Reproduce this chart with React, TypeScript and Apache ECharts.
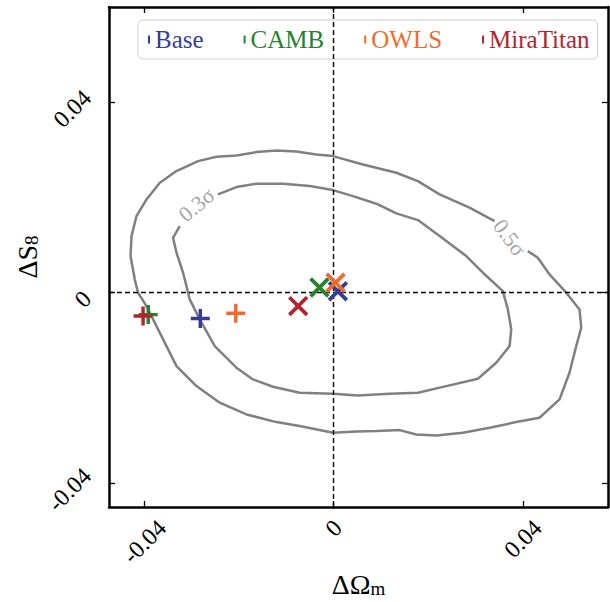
import React, { useEffect, useRef } from "react";
import * as echarts from "echarts";

const FONT = "'Liberation Serif', 'Times New Roman', serif";

const SERIES_NAMES = ["Base", "CAMB", "OWLS", "MiraTitan"];
const SERIES_COLORS = ["#343c98", "#26832a", "#f26a2b", "#b3232f"];

// "+" markers
const PLUS_X = [-0.0282, -0.0392, -0.0207, -0.0403];
const PLUS_Y = [-0.0054, -0.0046, -0.0043, -0.0049];
// "x" markers
const CROSS_X = [0.0009, -0.003, 0.0004, -0.0075];
const CROSS_Y = [0.0003, 0.0011, 0.0021, -0.0028];

const X_TICKS = [-0.04, 0, 0.04];
const Y_TICKS = [-0.04, 0, 0.04];
const TICK_LABELS = ["-0.04", "0", "0.04"];

const X_MIN = -0.0475;
const X_MAX = 0.058;
const Y_MIN = -0.045;
const Y_MAX = 0.06;

// 0.5 sigma contour
const CONTOUR_05: [number, number][] = [
  [0.04105, 0.00874], [0.04317, 0.00735], [0.04564, 0.00384], [0.04917, 0.0],
  [0.05198, -0.00351], [0.05234, -0.00735], [0.05128, -0.01121], [0.04986, -0.0168],
  [0.04775, -0.02241], [0.04352, -0.02625], [0.0386, -0.02717], [0.03296, -0.02835],
  [0.02732, -0.0294], [0.0217, -0.02997], [0.01747, -0.02976], [0.01394, -0.02885],
  [0.00902, -0.02906], [0.0048, -0.02913], [-0.00015, -0.0294], [-0.00718, -0.02801],
  [-0.01211, -0.02717], [-0.01845, -0.02556], [-0.02409, -0.0231], [-0.02901, -0.01961],
  [-0.03323, -0.01541], [-0.0364, -0.00911], [-0.03957, -0.00281], [-0.04135, 0.0],
  [-0.04205, 0.00279], [-0.04295, 0.00769], [-0.04274, 0.01189], [-0.04169, 0.01609],
  [-0.03957, 0.01959], [-0.03676, 0.0231], [-0.03324, 0.02554], [-0.02867, 0.02764],
  [-0.02478, 0.02856], [-0.02056, 0.02883], [-0.01633, 0.02953], [-0.01211, 0.02988],
  [-0.00788, 0.02967], [-0.00366, 0.02904], [-0.00015, 0.02869], [0.00619, 0.02694],
  [0.01325, 0.0252], [0.01781, 0.02344], [0.0224, 0.02064], [0.02873, 0.01785],
  [0.03402, 0.01504],
];

// 0.3 sigma contour
const CONTOUR_03: [number, number][] = [
  [-0.02445, 0.02064], [-0.02056, 0.02218], [-0.01633, 0.02289], [-0.01071, 0.02289],
  [-0.00507, 0.02239], [-0.00015, 0.02155], [0.00408, 0.02029], [0.00902, 0.01869],
  [0.01325, 0.01665], [0.01781, 0.01525], [0.0224, 0.01189], [0.02804, 0.00769],
  [0.03155, 0.0042], [0.03577, 0.00034], [0.03683, -0.00351], [0.03755, -0.00771],
  [0.03719, -0.01121], [0.03438, -0.0147], [0.03049, -0.01806], [0.02381, -0.01961],
  [0.01781, -0.021], [0.01183, -0.02121], [0.00513, -0.02157], [-0.00015, -0.02121],
  [-0.00718, -0.021], [-0.01282, -0.01974], [-0.01705, -0.01821], [-0.02056, -0.01575],
  [-0.02514, -0.01121], [-0.02831, -0.00561], [-0.03043, -0.00141], [-0.03112, 0.00139],
  [-0.03184, 0.0042], [-0.03323, 0.0084], [-0.03395, 0.01155], [-0.03254, 0.01399],
];

const CONTOUR_LABELS = ["0.3σ", "0.5σ"];
const CONTOUR_LABEL_POS: [number, number][] = [[-0.029, 0.0185], [0.0372, 0.0116]];
const CONTOUR_LABEL_ROT = [40, -54];

const PLUS_PATH =
  "path://M-0.18,-1L0.18,-1L0.18,-0.18L1,-0.18L1,0.18L0.18,0.18L0.18,1L-0.18,1L-0.18,0.18L-1,0.18L-1,-0.18L-0.18,-0.18Z";
const CROSS_PATH =
  "path://M-0.15,-1L0.15,-1L0.15,-0.15L1,-0.15L1,0.15L0.15,0.15L0.15,1L-0.15,1L-0.15,0.15L-1,0.15L-1,-0.15L-0.15,-0.15Z";

let measureCtx: CanvasRenderingContext2D | null = null;
function measure(s: string, size: number) {
  if (!measureCtx) measureCtx = document.createElement("canvas").getContext("2d");
  if (!measureCtx) return s.length * size * 0.5;
  measureCtx.font = `${size}px ${FONT}`;
  return measureCtx.measureText(s).width;
}

const TICK_FS = 24;

function tickIndex(v: number, ticks: number[]) {
  return ticks.findIndex((t) => Math.abs(t - v) < 1e-9);
}

export default function App() {
  const ref = useRef<HTMLDivElement>(null);
  useEffect(() => {
    if (!ref.current) return;
    const chart = echarts.init(ref.current, undefined, { renderer: "svg" });

    const xRich: any = {};
    const yRich: any = {};
    TICK_LABELS.forEach((s, i) => {
      const w = measure(s, TICK_FS);
      xRich["t" + i] = {
        fontFamily: FONT,
        fontSize: TICK_FS,
        color: "#000",
        padding: [0.25 * w, 0.5 * w + TICK_FS, 0, 0],
      };
      yRich["t" + i] = {
        fontFamily: FONT,
        fontSize: TICK_FS,
        color: "#000",
        padding: [12, 0.5 * w + 6, 0.5 * w, 0],
      };
    });

    const axisLineStyle = { color: "#000", width: 2.5 };
    const tickStyle = { show: true, inside: true, length: 6, lineStyle: { color: "#000", width: 1.3 } };

    const markerSeries = SERIES_NAMES.map((name, i) => ({
      name,
      type: "scatter",
      z: 5,
      itemStyle: { color: SERIES_COLORS[i], opacity: 1 },
      data: [
        { value: [PLUS_X[i], PLUS_Y[i]], symbol: PLUS_PATH, symbolSize: 19 },
        { value: [CROSS_X[i], CROSS_Y[i]], symbol: CROSS_PATH, symbolSize: 25, symbolRotate: 45 },
      ],
    }));

    const contourStyle = { color: "#808080", width: 2.5 };
    const legendText = { fontFamily: FONT, fontSize: 25 };
    const nameRich = {
      a: { fontFamily: FONT, fontSize: 28, lineHeight: 28, color: "#000" },
      b: { fontFamily: FONT, fontSize: 19, lineHeight: 19, color: "#000", padding: [9, 0, 0, 0] },
    };

    const option: any = {
      animation: false,
      grid: { left: 109, right: 2, top: 7, bottom: 95, containLabel: false, outerBoundsMode: "none" },
      legend: {
        left: 138,
        top: 20,
        padding: [7, 8, 7, 10],
        itemGap: 40,
        itemWidth: 2,
        itemHeight: 8,
        selectedMode: false,
        borderColor: "#d0d0d0",
        borderWidth: 1,
        borderRadius: 5,
        textStyle: legendText,
        data: SERIES_NAMES.map((name, i) => ({
          name,
          icon: "rect",
          textStyle: { ...legendText, color: SERIES_COLORS[i] },
        })),
      },
      xAxis: [
        {
          type: "value",
          position: "bottom",
          min: X_MIN,
          max: X_MAX,
          splitLine: { show: false },
          axisLine: { show: true, onZero: false, lineStyle: axisLineStyle },
          axisTick: { ...tickStyle, customValues: X_TICKS },
          axisLabel: {
            show: true,
            customValues: X_TICKS,
            rotate: 45,
            align: "center",
            verticalAlign: "top",
            margin: 0,
            fontFamily: FONT,
            fontSize: TICK_FS,
            formatter: (v: number) => {
              const i = tickIndex(v, X_TICKS);
              return i < 0 ? "" : `{t${i}|${TICK_LABELS[i]}}`;
            },
            rich: xRich,
          },
          name: "{a|ΔΩ}{b|m}",
          nameLocation: "middle",
          nameGap: 63,
          nameMoveOverlap: false,
          nameTextStyle: { fontFamily: FONT, fontSize: 28, color: "#000", rich: nameRich },
        },
        {
          type: "value",
          position: "top",
          min: X_MIN,
          max: X_MAX,
          splitLine: { show: false },
          axisLine: { show: true, onZero: false, lineStyle: axisLineStyle },
          axisTick: { ...tickStyle, customValues: X_TICKS },
          axisLabel: { show: false },
        },
      ],
      yAxis: [
        {
          type: "value",
          position: "left",
          min: Y_MIN,
          max: Y_MAX,
          splitLine: { show: false },
          axisLine: { show: true, onZero: false, lineStyle: axisLineStyle },
          axisTick: { ...tickStyle, customValues: Y_TICKS },
          axisLabel: {
            show: true,
            customValues: Y_TICKS,
            rotate: 45,
            align: "center",
            verticalAlign: "middle",
            margin: 24,
            fontFamily: FONT,
            fontSize: TICK_FS,
            formatter: (v: number) => {
              const i = tickIndex(v, Y_TICKS);
              return i < 0 ? "" : `{t${i}|${TICK_LABELS[i]}}`;
            },
            rich: yRich,
          },
          name: "{a|ΔS}{b|8}",
          nameLocation: "middle",
          nameGap: 68,
          nameMoveOverlap: false,
          nameTextStyle: { fontFamily: FONT, fontSize: 28, color: "#000", rich: nameRich },
        },
        {
          type: "value",
          position: "right",
          min: Y_MIN,
          max: Y_MAX,
          splitLine: { show: false },
          axisLine: { show: true, onZero: false, lineStyle: axisLineStyle },
          axisTick: { ...tickStyle, customValues: Y_TICKS },
          axisLabel: { show: false },
        },
      ],
      series: [
        {
          name: "contour05",
          type: "line",
          z: 2,
          showSymbol: false,
          symbol: "none",
          silent: true,
          lineStyle: contourStyle,
          data: CONTOUR_05,
          markLine: {
            silent: true,
            symbol: "none",
            label: { show: false },
            lineStyle: { color: "#000", width: 1.4, type: [5, 3] },
            data: [{ xAxis: 0 }, { yAxis: 0 }],
          },
        },
        {
          name: "contour03",
          type: "line",
          z: 2,
          showSymbol: false,
          symbol: "none",
          silent: true,
          lineStyle: contourStyle,
          data: CONTOUR_03,
        },
        {
          name: "contourLabels",
          type: "scatter",
          z: 3,
          silent: true,
          symbolSize: 0,
          data: CONTOUR_LABEL_POS.map((p, i) => ({
            value: p,
            label: {
              show: true,
              position: "inside",
              formatter: CONTOUR_LABELS[i],
              rotate: CONTOUR_LABEL_ROT[i],
              fontFamily: FONT,
              fontSize: 22,
              color: "#8c8c8c",
            },
          })),
        },
        ...markerSeries,
      ],
    };
    chart.setOption(option);
    return () => chart.dispose();
  }, []);
  return (
    <div
      ref={ref}
      style={{ position: "fixed", left: 0, top: 0, width: 610, height: 602, background: "#fff" }}
    />
  );
}
